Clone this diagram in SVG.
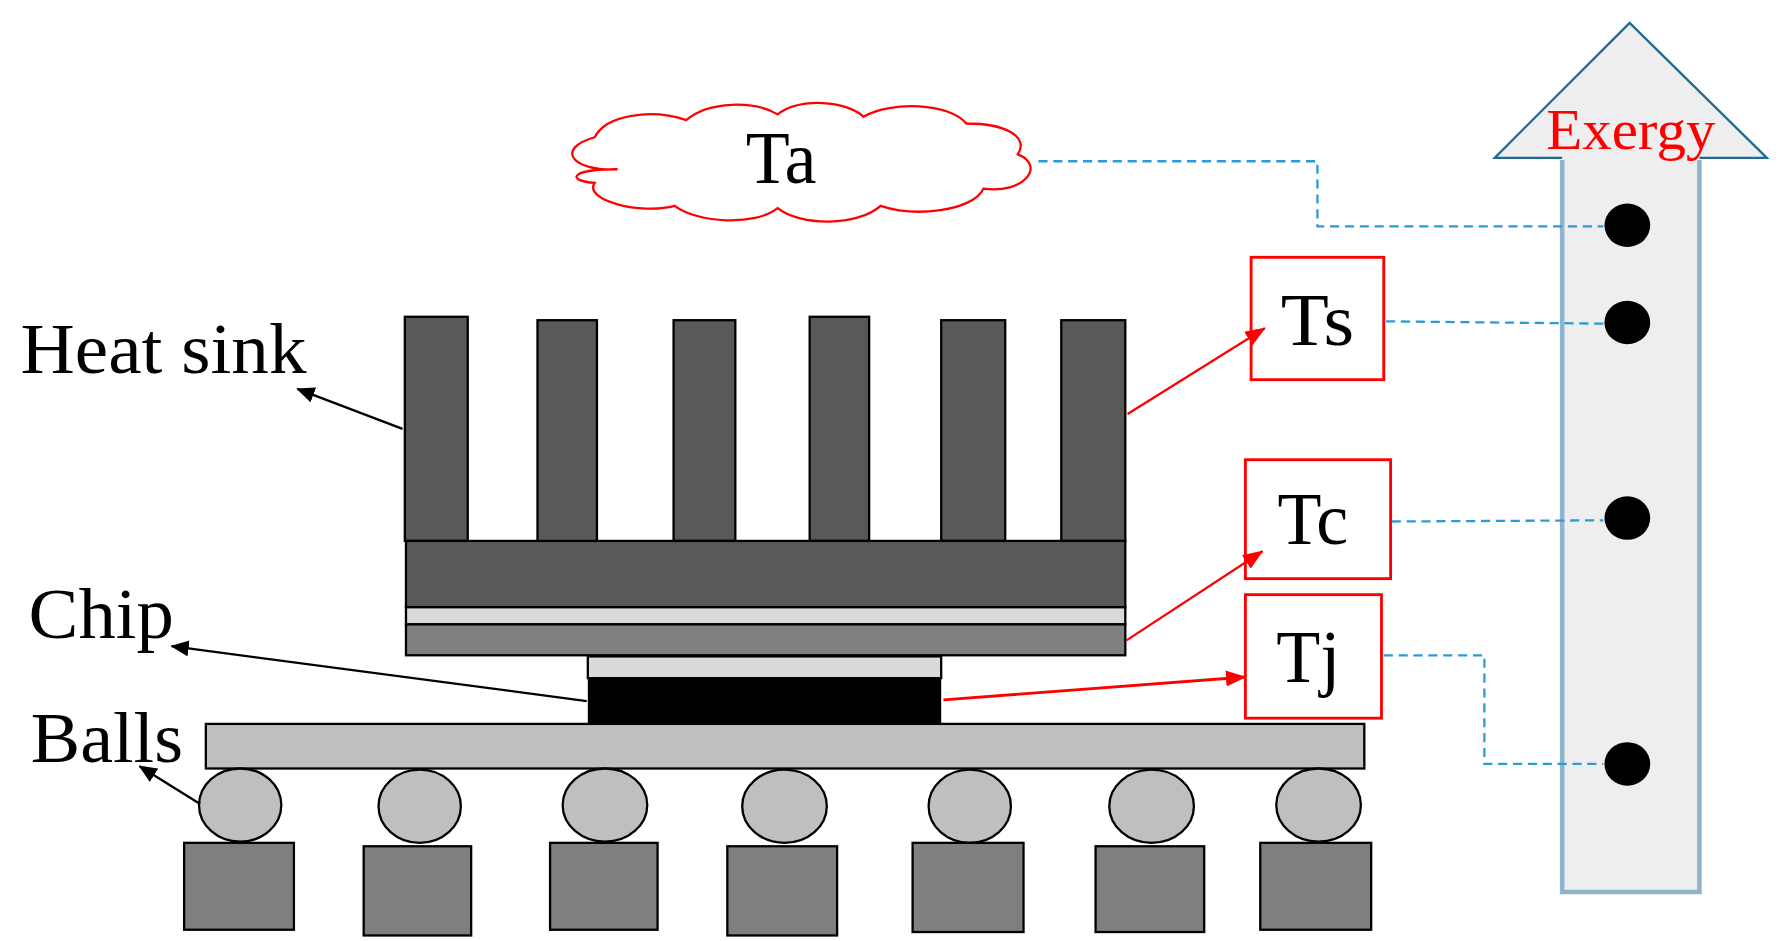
<svg xmlns="http://www.w3.org/2000/svg" width="1784" height="941" viewBox="0 0 1784 941">
<defs>
<marker id="ab" markerWidth="16" markerHeight="14" refX="15" refY="7" orient="auto" markerUnits="userSpaceOnUse"><path d="M0,0 L16,7 L0,14 z" fill="#000"/></marker>
<marker id="ar" markerWidth="18" markerHeight="14" refX="17" refY="7" orient="auto" markerUnits="userSpaceOnUse"><path d="M0,0 L18,7 L0,14 z" fill="#f00"/></marker>
<style>
.t{font-family:"Liberation Serif",serif;fill:#000}
.dk{fill:#595959;stroke:#000;stroke-width:2}
.pad{fill:#7f7f7f;stroke:#000;stroke-width:2}
.ball{fill:#bfbfbf;stroke:#000;stroke-width:2}
.rb{fill:#fff;stroke:#f00;stroke-width:2.5}
.dash{fill:none;stroke:#2a9bd8;stroke-width:2;stroke-dasharray:8,5}
.dot{fill:#000}
</style>
</defs>
<rect width="1784" height="941" fill="#fff"/>
<g transform="scale(1.1436)">
<g id="exergy">
<path d="M1366,780 L1366,138 L1307,138 L1425,20 L1545,138 L1486,138 L1486,780 Z" fill="#eeeeee" stroke="none"/>
<path d="M1366,140 L1366,780 L1486,780 L1486,140" fill="none" stroke="#8fb4cc" stroke-width="4"/>
<path d="M1366,138 L1307,138 L1425,20 L1545,138 L1486,138" fill="none" stroke="#1f6a94" stroke-width="2"/>
<text x="1426" y="130" font-size="50" text-anchor="middle" class="t" style="fill:#f00" textLength="148" lengthAdjust="spacingAndGlyphs">Exergy</text>
<ellipse class="dot" cx="1423" cy="197" rx="20" ry="19"/>
<ellipse class="dot" cx="1423" cy="282" rx="20" ry="19"/>
<ellipse class="dot" cx="1423" cy="453" rx="20" ry="19"/>
<ellipse class="dot" cx="1423" cy="668" rx="20" ry="19"/>
</g>
<g id="ta">
<path d="M540,148 C500,150 485,130 520,120 C530,100 570,95 600,105 C620,88 660,88 680,100 C700,85 740,88 755,102 C780,88 830,90 845,108 C880,108 900,120 890,135 C915,145 895,170 860,165 C850,185 800,190 770,180 C750,198 700,198 680,182 C660,198 610,195 590,180 C560,188 510,175 520,160 C495,158 498,148 540,148 Z" fill="#fff" stroke="#f00" stroke-width="2"/>
<text x="683" y="160" font-size="64" text-anchor="middle" class="t" textLength="62" lengthAdjust="spacingAndGlyphs">Ta</text>
</g>
<g id="ts"><rect class="rb" x="1094" y="225" width="116" height="107"/><text x="1152" y="302" font-size="64" text-anchor="middle" class="t" textLength="64" lengthAdjust="spacingAndGlyphs">Ts</text></g>
<g id="tc"><rect class="rb" x="1089" y="402" width="127" height="104"/><text x="1148" y="476" font-size="64" text-anchor="middle" class="t" textLength="62" lengthAdjust="spacingAndGlyphs">Tc</text></g>
<g id="tj"><rect class="rb" x="1089" y="520" width="119" height="108"/><text x="1144" y="596" font-size="64" text-anchor="middle" class="t" textLength="56" lengthAdjust="spacingAndGlyphs">Tj</text></g>
<g id="heatsink">
<rect class="dk" x="354" y="277" width="55" height="196"/>
<rect class="dk" x="470" y="280" width="52" height="196"/>
<rect class="dk" x="589" y="280" width="54" height="193"/>
<rect class="dk" x="708" y="277" width="52" height="196"/>
<rect class="dk" x="823" y="280" width="56" height="193"/>
<rect class="dk" x="928" y="280" width="56" height="193"/>
<rect class="dk" x="355" y="473" width="629" height="58"/>
<rect x="355" y="531" width="629" height="15" fill="#d9d9d9" stroke="#000" stroke-width="2"/>
<rect x="355" y="546" width="629" height="27" fill="#808080" stroke="#000" stroke-width="2"/>
</g>
<g id="chip">
<rect x="514" y="574" width="309" height="19" fill="#d9d9d9" stroke="#000" stroke-width="2"/>
<rect x="514" y="593" width="309" height="40" fill="#000"/>
</g>
<g id="substrate"><rect x="180" y="633" width="1013" height="39" fill="#bfbfbf" stroke="#000" stroke-width="2"/></g>
<g id="balls">
<ellipse class="ball" cx="210" cy="704" rx="36" ry="32"/>
<ellipse class="ball" cx="367" cy="705" rx="36" ry="32"/>
<ellipse class="ball" cx="529" cy="704" rx="37" ry="32"/>
<ellipse class="ball" cx="686" cy="705" rx="37" ry="32"/>
<ellipse class="ball" cx="848" cy="705" rx="36" ry="32"/>
<ellipse class="ball" cx="1007" cy="705" rx="37" ry="32"/>
<ellipse class="ball" cx="1153" cy="704" rx="37" ry="32"/>
<rect class="pad" x="161" y="737" width="96" height="76"/>
<rect class="pad" x="318" y="740" width="94" height="78"/>
<rect class="pad" x="481" y="737" width="94" height="76"/>
<rect class="pad" x="636" y="740" width="96" height="78"/>
<rect class="pad" x="798" y="737" width="97" height="78"/>
<rect class="pad" x="958" y="740" width="95" height="75"/>
<rect class="pad" x="1102" y="737" width="97" height="76"/>
</g>
<g id="labels">
<text x="18" y="326" font-size="62" class="t" textLength="250" lengthAdjust="spacingAndGlyphs">Heat sink</text>
<text x="25" y="558" font-size="62" class="t" textLength="127" lengthAdjust="spacingAndGlyphs">Chip</text>
<text x="27" y="666" font-size="62" class="t" textLength="133" lengthAdjust="spacingAndGlyphs">Balls</text>
</g>
<g id="connectors">
<line x1="352" y1="375" x2="260" y2="340" stroke="#000" stroke-width="2" marker-end="url(#ab)"/>
<line x1="513" y1="613" x2="150" y2="565" stroke="#000" stroke-width="2" marker-end="url(#ab)"/>
<line x1="175" y1="703" x2="122" y2="670" stroke="#000" stroke-width="2" marker-end="url(#ab)"/>
<line x1="986" y1="362" x2="1106" y2="287" stroke="#f00" stroke-width="2" marker-end="url(#ar)"/>
<line x1="985" y1="560" x2="1104" y2="482" stroke="#f00" stroke-width="2" marker-end="url(#ar)"/>
<line x1="825" y1="612" x2="1089" y2="592" stroke="#f00" stroke-width="2.5" marker-end="url(#ar)"/>
<path class="dash" d="M908,141 L1152,141 L1152,198 L1402,198"/>
<path class="dash" d="M1212,281 L1402,283"/>
<path class="dash" d="M1217,456 L1402,455"/>
<path class="dash" d="M1210,573 L1298,573 L1298,668 L1402,668"/>
</g>
</g>
</svg>
